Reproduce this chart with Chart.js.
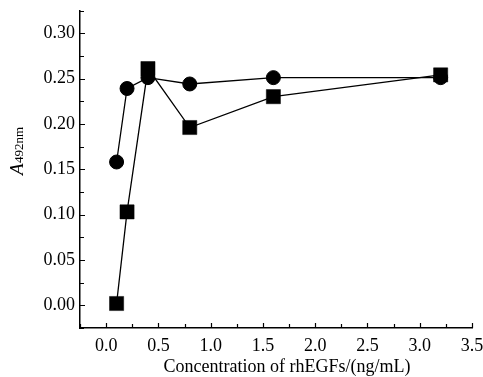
<!DOCTYPE html>
<html>
<head>
<meta charset="utf-8">
<script src="https://cdn.jsdelivr.net/npm/chart.js@4"></script>
<style>
  html, body { margin: 0; padding: 0; background: #fff; }
  #wrap { width: 483px; height: 377px; }
</style>
</head>
<body>
<div id="wrap"><canvas id="grafica" width="483" height="377"></canvas></div>
<script>
// datos
const concentraciones = [0.1, 0.2, 0.4, 0.8, 1.6, 3.2];
const serieCirculos = [0.158, 0.239, 0.251, 0.244, 0.251, 0.251];
const serieCuadrados = [0.002, 0.103, 0.261, 0.196, 0.230, 0.254];
const ticksX = [0.0, 0.5, 1.0, 1.5, 2.0, 2.5, 3.0, 3.5];
const ticksY = [0.00, 0.05, 0.10, 0.15, 0.20, 0.25, 0.30];

const fuente = 'Liberation Serif, Times New Roman, serif';

function puntos(valores) {
    return concentraciones.map((x, i) => ({ x: x, y: valores[i] }));
}

// marcas de los ejes hacia dentro (mayores y menores)
const marcasPlugin = {
    id: 'marcas',
    afterDraw(chart) {
        const ctx = chart.ctx;
        const area = chart.chartArea;
        const sx = chart.scales.x;
        const sy = chart.scales.y;
        ctx.save();
        ctx.strokeStyle = '#000';
        ctx.lineWidth = 1.2;
        ctx.beginPath();
        for (let v = -0.25; v <= 3.5001; v += 0.25) {
            const px = Math.round(sx.getPixelForValue(v)) + 0.5;
            const len = Math.abs(v * 2 - Math.round(v * 2)) < 1e-6 ? 5 : 4;
            ctx.moveTo(px, area.bottom);
            ctx.lineTo(px, area.bottom - len);
        }
        for (let v = -0.025; v <= 0.3251; v += 0.025) {
            const py = Math.round(sy.getPixelForValue(v)) + 0.5;
            const len = Math.abs(v * 20 - Math.round(v * 20)) < 1e-6 ? 5 : 4;
            ctx.moveTo(area.left, py);
            ctx.lineTo(area.left + len, py);
        }
        ctx.stroke();

        // titulo eje x
        ctx.fillStyle = '#000';
        ctx.font = '18px ' + fuente;
        ctx.textAlign = 'center';
        ctx.textBaseline = 'alphabetic';
        ctx.fillText('Concentration of rhEGFs/(ng/mL)', 287, 372);

        // titulo eje y: A con subindice 492nm
        ctx.translate(23, 175);
        ctx.rotate(-Math.PI / 2);
        ctx.textAlign = 'left';
        ctx.font = 'italic 19px ' + fuente;
        ctx.fillText('A', 0, 0);
        const ancho = ctx.measureText('A').width;
        ctx.font = '13px ' + fuente;
        ctx.fillText('492nm', ancho + 0.5, 0);
        ctx.restore();
    }
};

const ctx = document.getElementById('grafica').getContext('2d');
const myChart = new Chart(ctx, {
    type: 'scatter',
    data: {
        datasets: [
            {
                label: 'circulos',
                data: puntos(serieCirculos),
                showLine: true,
                borderColor: '#000',
                backgroundColor: '#000',
                borderWidth: 1.3,
                pointStyle: 'circle',
                pointRadius: 7,
                pointBorderWidth: 1,
                pointBackgroundColor: '#000',
                pointBorderColor: '#000'
            },
            {
                label: 'cuadrados',
                data: puntos(serieCuadrados),
                showLine: true,
                borderColor: '#000',
                backgroundColor: '#000',
                borderWidth: 1.3,
                pointStyle: 'rect',
                pointRadius: 10,
                pointBorderWidth: 0.5,
                pointBackgroundColor: '#000',
                pointBorderColor: '#000'
            }
        ]
    },
    options: {
        responsive: false,
        animation: false,
        devicePixelRatio: 1,
        layout: { padding: { top: 10, right: 11, left: 0, bottom: 0 } },
        plugins: {
            legend: { display: false },
            tooltip: { enabled: false }
        },
        scales: {
            x: {
                type: 'linear',
                min: -0.25,
                max: 3.5,
                grid: { display: false, drawTicks: false },
                border: { display: true, color: '#000', width: 1.5 },
                afterBuildTicks: scale => { scale.ticks = ticksX.map(v => ({ value: v })); },
                afterFit: scale => {
                    scale.height = 49;
                    scale.paddingLeft = 0;
                    scale.paddingRight = 0;
                },
                ticks: {
                    padding: 7,
                    color: '#000',
                    font: { family: fuente, size: 18 },
                    maxRotation: 0,
                    callback: v => v.toFixed(1)
                }
            },
            y: {
                type: 'linear',
                min: -0.025,
                max: 0.325,
                grid: { display: false, drawTicks: false },
                border: { display: true, color: '#000', width: 1.5 },
                afterBuildTicks: scale => { scale.ticks = ticksY.map(v => ({ value: v })); },
                afterFit: scale => {
                    scale.width = 80;
                    scale.paddingTop = 0;
                    scale.paddingBottom = 0;
                },
                ticks: {
                    padding: 5,
                    color: '#000',
                    font: { family: fuente, size: 18 },
                    callback: v => v.toFixed(2)
                }
            }
        }
    },
    plugins: [marcasPlugin]
});
</script>
</body>
</html>
